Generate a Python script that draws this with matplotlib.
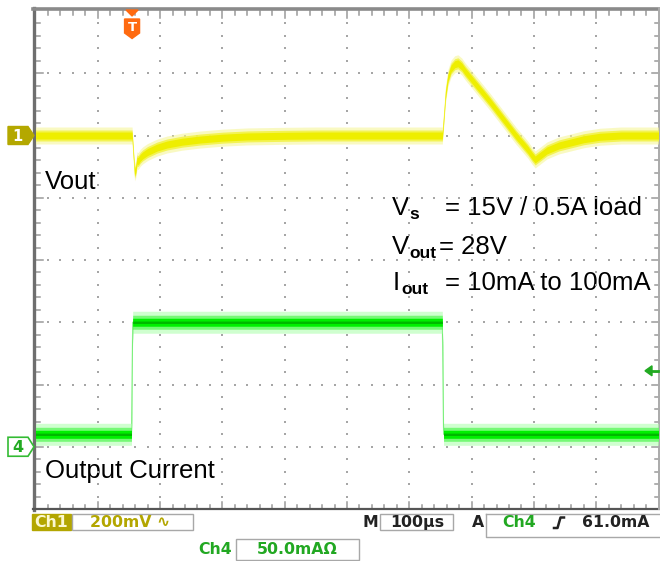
import matplotlib
matplotlib.use("Agg")
import matplotlib.pyplot as plt
from matplotlib.patches import Polygon, Rectangle
import numpy as np

# ---------------- data ----------------
# Channel 1: Vout AC deviation (mV) vs time from left of screen (us)
vout_t_us = [0, 155, 157, 159, 161, 163, 165, 168, 172, 180, 195, 211, 235, 264, 300,
             340, 400, 450, 653, 655, 658, 662, 667, 673, 678, 684, 690, 730,
             771, 790, 797, 802, 808, 821, 840, 860, 880, 906, 940, 1000]
vout_dev_mV = [0, 0, -60, -118, -108, -80, -82, -72, -64, -53, -39, -29, -20, -13, -7,
               -3, -1, 0, 0, 50, 130, 185, 215, 229, 232, 222, 205, 107,
               0, -45, -65, -77, -68, -48, -32, -22, -12, -4, 0, 0]
# Channel 4: output current (mA)
iout_t_us = [0, 154, 156, 653, 655, 1000]
iout_mA = [10, 10, 100, 100, 10, 10]

ch1_scale_mV = 200.0     # per division
ch4_scale_mA = 50.0      # per division
time_scale_us = 100.0    # per division
ch1_offset_div = 6.0
ch4_offset_div = 1.0
trig_level_mA = 61.0
trig_time_us = 155.0

# ---------------- figure geometry ----------------
W, H = 660, 561
fig = plt.figure(figsize=(6.6, 5.61), dpi=100)
fig.patch.set_facecolor("white")

L, R, T, B = 35.5, 658.5, 11.0, 509.0
DX = (R - L) / 10.0
DY = (B - T) / 8.0

pax = fig.add_axes([0, 0, 1, 1])
pax.set_xlim(0, W)
pax.set_ylim(H, 0)
pax.axis("off")
pax.patch.set_alpha(0)

sax = fig.add_axes([L / W, (H - B) / H, (R - L) / W, (B - T) / H])
sax.set_xlim(0, 10 * time_scale_us)
sax.set_ylim(0, 8)
sax.axis("off")
sax.patch.set_alpha(0)

# ---------------- graticule ----------------
gcol = "#a6a6a6"
dx_, dy_ = [], []
for i in range(1, 10):
    for k in range(1, 40):
        dx_.append(i * time_scale_us)
        dy_.append(k * 0.2)
for j in range(1, 8):
    for k in range(1, 50):
        dx_.append(k * time_scale_us / 5)
        dy_.append(j)
sax.scatter(dx_, dy_, s=2.2, marker="s", color=gcol, lw=0, zorder=1)

# border ticks (pixel space)
tcol = "#9a9a9a"
for k in range(1, 50):
    x = L + k * DX / 5
    ln = 7 if k % 5 == 0 else 4
    pax.plot([x, x], [T, T + ln], color=tcol, lw=1.1, zorder=2)
    pax.plot([x, x], [B, B - ln], color=tcol, lw=1.1, zorder=2)
for k in range(1, 40):
    y = T + k * DY / 5
    ln = 7 if k % 5 == 0 else 4
    pax.plot([L, L + ln], [y, y], color=tcol, lw=1.1, zorder=2)
    pax.plot([R, R - ln], [y, y], color=tcol, lw=1.1, zorder=2)

# borders
pax.plot([L - 2, L - 2], [T - 3, B + 1], color="#6e6e6e", lw=2.4, zorder=3)
pax.plot([L - 3, W], [T - 2, T - 2], color="#8a8a8a", lw=2.6, zorder=3)
pax.plot([L - 3, R], [B, B], color="#555555", lw=1.6, zorder=3)
pax.plot([R, R], [T - 3, B], color="#aaaaaa", lw=1.4, zorder=3)

# ---------------- traces ----------------
t1 = np.array(vout_t_us)
y1 = ch1_offset_div + np.array(vout_dev_mV) / ch1_scale_mV
t4 = np.array(iout_t_us)
y4 = ch4_offset_div + np.array(iout_mA) / ch4_scale_mA


def band(t, y, h_px, color, alpha, z):
    h = h_px / DY
    sax.fill_between(t, y - h, y + h, color=color, alpha=alpha, lw=0, zorder=z)


band(t1, y1, 8.5, "#f6f69a", 0.6, 4)
band(t1, y1, 5.5, "#f2f240", 0.85, 5)
band(t1, y1, 3.5, "#eeee00", 1.0, 6)

band(t4, y4, 11, "#b0ffb0", 0.6, 4)
band(t4, y4, 7, "#66f866", 0.85, 5)
band(t4, y4, 4, "#00f000", 1.0, 6)
band(t4, y4, 1.2, "#00b800", 1.0, 7)
# thin light vertical edges of the current steps
sax.plot(t4, y4, color="#88f088", lw=0.8, zorder=3)

# ---------------- markers ----------------
y_ch1 = B - ch1_offset_div * DY
pax.add_patch(Polygon([(8, y_ch1 - 9), (28, y_ch1 - 9), (34, y_ch1), (28, y_ch1 + 9), (8, y_ch1 + 9)],
                      closed=True, fc="#b4a800", ec="#b4a800", lw=1, zorder=8))
pax.text(17, y_ch1 + 0.5, "1", color="white", fontsize=10.5, fontweight="bold",
         ha="center", va="center", family="DejaVu Sans", zorder=9)

y_ch4 = B - ch4_offset_div * DY
pax.add_patch(Polygon([(8, y_ch4 - 9.5), (28, y_ch4 - 9.5), (34, y_ch4), (28, y_ch4 + 9.5), (8, y_ch4 + 9.5)],
                      closed=True, fc="white", ec="#33bb33", lw=1.2, zorder=8))
pax.text(18, y_ch4 + 0.5, "4", color="#22aa22", fontsize=11.5, fontweight="bold",
         ha="center", va="center", family="DejaVu Sans", zorder=9)

xt = L + trig_time_us / time_scale_us * DX
orange = "#ff6a10"
pax.add_patch(Polygon([(xt - 6, T - 1), (xt + 6, T - 1), (xt, T + 5)], closed=True,
                      fc=orange, ec=orange, zorder=9))
pax.add_patch(Polygon([(xt - 7.5, 19), (xt + 7.5, 19), (xt + 7.5, 33), (xt, 38.5), (xt - 7.5, 33)],
                      closed=True, fc=orange, ec=orange, lw=1, zorder=9))
pax.text(xt, 27.5, "T", color="white", fontsize=9.5, fontweight="bold",
         ha="center", va="center", family="DejaVu Sans", zorder=10)

y_trig = B - (ch4_offset_div + trig_level_mA / ch4_scale_mA) * DY
pax.add_patch(Polygon([(645, y_trig), (652, y_trig - 5), (652, y_trig + 5)], closed=True,
                      fc="#22aa22", ec="#22aa22", zorder=9))
pax.plot([651, 658], [y_trig, y_trig], color="#22aa22", lw=2, zorder=9)

# ---------------- annotation text ----------------
af = "Liberation Sans"
pax.text(45, 189, "Vout", fontsize=18.5, family=af, va="baseline", color="black", zorder=10)
pax.text(45, 478, "Output Current", fontsize=18.5, family=af, va="baseline", color="black", zorder=10)

pax.text(392, 215, "V", fontsize=18.5, family=af, va="baseline", zorder=10)
pax.text(409.5, 219, "s", fontsize=12.5, family=af, fontweight="bold", va="baseline", zorder=10)
pax.text(445, 215, "= 15V / 0.5A load", fontsize=18.5, family=af, va="baseline", zorder=10)

pax.text(392, 254, "V", fontsize=18.5, family=af, va="baseline", zorder=10)
pax.text(409.5, 258, "out", fontsize=12.5, family=af, fontweight="bold", va="baseline", zorder=10)
pax.text(439, 254, "= 28V", fontsize=18.5, family=af, va="baseline", zorder=10)

pax.text(393, 290, "I", fontsize=18.5, family=af, va="baseline", zorder=10)
pax.text(401, 294, "out", fontsize=12.5, family=af, fontweight="bold", va="baseline", zorder=10)
pax.text(445, 290, "= 10mA to 100mA", fontsize=18.5, family=af, va="baseline", zorder=10)

# ---------------- readout area ----------------
olive = "#b3a600"
green = "#22a822"
bf = "DejaVu Sans"
fs = 11.3
boxec = "#a8a8a8"
ry = 522.5

pax.add_patch(Rectangle((32, 514), 39, 16, fc=olive, ec=olive, zorder=5))
pax.text(51.5, ry, "Ch1", color="#fbf8d0", fontsize=fs, fontweight="bold", family=bf,
         ha="center", va="center", zorder=6)
pax.add_patch(Rectangle((72, 514), 121, 16, fc="white", ec=boxec, lw=1, zorder=5))
pax.text(90, ry, "200mV \u223f", color=olive, fontsize=fs, fontweight="bold", family=bf,
         ha="left", va="center", zorder=6)

pax.text(370.5, ry, "M", color="#222222", fontsize=fs, fontweight="bold", family=bf,
         ha="center", va="center", zorder=6)
pax.add_patch(Rectangle((380, 514), 73, 16, fc="white", ec=boxec, lw=1, zorder=5))
pax.text(417, ry, "100\u00b5s", color="#222222", fontsize=fs, fontweight="bold", family=bf,
         ha="center", va="center", zorder=6)

pax.text(478, ry, "A", color="#222222", fontsize=fs, fontweight="bold", family=bf,
         ha="center", va="center", zorder=6)
pax.plot([486, 486, W], [514, 537, 537], color=boxec, lw=1, zorder=5)
pax.plot([486, W], [514, 514], color=boxec, lw=1, zorder=5)
pax.text(502, ry, "Ch4", color=green, fontsize=fs, fontweight="bold", family=bf,
         ha="left", va="center", zorder=6)
pax.plot([554, 557.5, 560.5, 564], [528, 528, 517.5, 517.5], color="#222222", lw=1.8, zorder=6)
pax.text(582, ry, "61.0mA", color="#222222", fontsize=fs, fontweight="bold", family=bf,
         ha="left", va="center", zorder=6)

pax.text(215, 549.5, "Ch4", color=green, fontsize=fs, fontweight="bold", family=bf,
         ha="center", va="center", zorder=6)
pax.add_patch(Rectangle((236, 539), 123, 21, fc="white", ec=boxec, lw=1, zorder=5))
pax.text(297.5, 549.5, "50.0mA\u03a9", color=green, fontsize=fs, fontweight="bold", family=bf,
         ha="center", va="center", zorder=6)

fig.savefig("out.png", dpi=100, facecolor="white")
